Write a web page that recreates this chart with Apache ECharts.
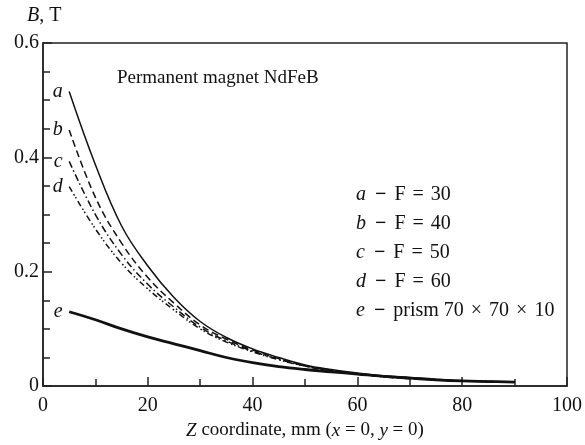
<!DOCTYPE html>
<html>
<head>
<meta charset="utf-8">
<script src="https://cdn.jsdelivr.net/npm/echarts@6/dist/echarts.min.js"></script>
<style>
  html, body { margin: 0; padding: 0; background: #fff; }
  #chart { width: 585px; height: 445px; }
</style>
</head>
<body>
<div id="chart"></div>
<script>
// Z coordinate (mm) where B was sampled
var zValues = [5, 10, 15, 20, 25, 30, 35, 40, 45, 50, 55, 60, 65, 70, 75, 80, 85, 90];
// B, T for each magnet
var curveA = [0.515, 0.387, 0.28, 0.21, 0.155, 0.113, 0.085, 0.065, 0.05, 0.037, 0.029, 0.023, 0.018, 0.015, 0.012, 0.0095, 0.008, 0.007];
var curveB = [0.448, 0.33, 0.25, 0.19, 0.145, 0.107, 0.082, 0.063, 0.048, 0.036, 0.028, 0.022, 0.017, 0.014, 0.011, 0.009, 0.008, 0.007];
var curveC = [0.393, 0.30, 0.23, 0.178, 0.138, 0.103, 0.079, 0.061, 0.047, 0.035, 0.027, 0.021, 0.017, 0.014, 0.011, 0.009, 0.008, 0.007];
var curveD = [0.349, 0.275, 0.215, 0.17, 0.133, 0.1, 0.077, 0.06, 0.046, 0.035, 0.027, 0.021, 0.016, 0.013, 0.011, 0.009, 0.008, 0.007];
var curveE = [0.13, 0.116, 0.1, 0.086, 0.074, 0.062, 0.05, 0.041, 0.034, 0.029, 0.025, 0.021, 0.017, 0.014, 0.011, 0.009, 0.008, 0.007];

var curveTags = ['a', 'b', 'c', 'd', 'e'];
var legendLines = ['F {o|=} 30', 'F {o|=} 40', 'F {o|=} 50', 'F {o|=} 60', 'prism 70 {o|×} 70 {o|×} 10'];
var yTicks = [0, 0.2, 0.4, 0.6];

var serif = '"Liberation Serif", "DejaVu Serif", serif';
var ink = '#111';

function pairs(ys) {
  var out = [];
  for (var i = 0; i < zValues.length; i++) {
    out.push([zValues[i], ys[i]]);
  }
  return out;
}

function curve(name, ys, tag, width, dash) {
  return {
    name: name,
    type: 'line',
    data: pairs(ys),
    smooth: 0.4,
    symbol: 'none',
    lineStyle: { color: ink, width: width, type: dash },
    // curve letter next to the first sample
    markPoint: {
      symbol: 'circle',
      symbolSize: 1,
      itemStyle: { color: 'rgba(0,0,0,0)' },
      label: {
        show: true,
        position: 'left',
        distance: 6,
        fontFamily: serif,
        fontStyle: 'italic',
        fontSize: 20,
        color: ink,
        formatter: tag
      },
      data: [{ coord: [zValues[0], ys[0]] }]
    },
    emphasis: { disabled: true },
    z: 3
  };
}

var legendGraphics = [];
for (var i = 0; i < curveTags.length; i++) {
  legendGraphics.push({
    type: 'text',
    left: 356,
    top: 185 + i * 29,
    style: {
      text: '{t|' + curveTags[i] + '}{d|−}' + legendLines[i],
      font: '20px ' + serif,
      fill: ink,
      rich: {
        t: { fontFamily: serif, fontStyle: 'italic', fontSize: 20, fill: ink },
        d: { fontFamily: serif, fontWeight: 'bold', fontSize: 20, fill: ink, padding: [0, 8, 0, 9] },
        o: { fontFamily: serif, fontSize: 20, fill: ink, padding: [0, 2] }
      }
    }
  });
}

var option = {
  animation: false,
  backgroundColor: '#fff',
  grid: {
    left: 43, right: 16, top: 43, bottom: 58,
    show: true,
    borderColor: '#222',
    borderWidth: 1.5,
    backgroundColor: 'transparent'
  },
  xAxis: {
    type: 'value',
    min: 0, max: 100, interval: 20,
    name: '{i|Z} coordinate, mm ({i|x} = 0, {i|y} = 0)',
    nameLocation: 'middle',
    nameGap: 34,
    nameTextStyle: {
      fontFamily: serif, fontSize: 19, color: ink,
      rich: { i: { fontFamily: serif, fontStyle: 'italic', fontSize: 19, color: ink } }
    },
    axisLine: { show: true, lineStyle: { color: '#222', width: 1.5 } },
    axisTick: { show: true, inside: true, length: 9, lineStyle: { color: '#222', width: 1.5 } },
    minorTick: { show: true, splitNumber: 2, length: 7, lineStyle: { color: '#222', width: 1.5 } },
    axisLabel: { fontFamily: serif, fontSize: 20, color: ink, margin: 10 },
    splitLine: { show: false }
  },
  yAxis: {
    type: 'value',
    min: 0, max: 0.6, interval: 0.2,
    axisLine: { show: true, lineStyle: { color: '#222', width: 1.5 } },
    axisTick: { show: true, inside: true, length: 9, lineStyle: { color: '#222', width: 1.5 } },
    minorTick: { show: true, splitNumber: 4, length: 7, lineStyle: { color: '#222', width: 1.5 } },
    axisLabel: {
      fontFamily: serif, fontSize: 20, color: ink, margin: 4,
      formatter: function (v) {
        for (var k = 0; k < yTicks.length; k++) {
          if (Math.abs(v - yTicks[k]) < 1e-9) return String(yTicks[k]);
        }
        return '';
      }
    },
    splitLine: { show: false }
  },
  graphic: [
    {
      type: 'text',
      left: 27,
      top: 6,
      style: {
        text: '{i|B}, T',
        font: '20px ' + serif,
        fill: ink,
        rich: { i: { fontFamily: serif, fontStyle: 'italic', fontSize: 20, fill: ink } }
      }
    },
    {
      type: 'text',
      left: 117,
      top: 69,
      style: { text: 'Permanent magnet NdFeB', font: '19px ' + serif, fill: ink }
    }
  ].concat(legendGraphics),
  series: [
    curve('F = 30', curveA, 'a', 1.5, 'solid'),
    curve('F = 40', curveB, 'b', 1.5, [7, 4]),
    curve('F = 50', curveC, 'c', 1.5, [7, 3, 1.5, 3]),
    curve('F = 60', curveD, 'd', 1.5, [6, 3, 1.5, 2, 1.5, 3]),
    curve('prism', curveE, 'e', 2.8, 'solid')
  ]
};

var myChart = echarts.init(document.getElementById('chart'));
myChart.setOption(option);
</script>
</body>
</html>
